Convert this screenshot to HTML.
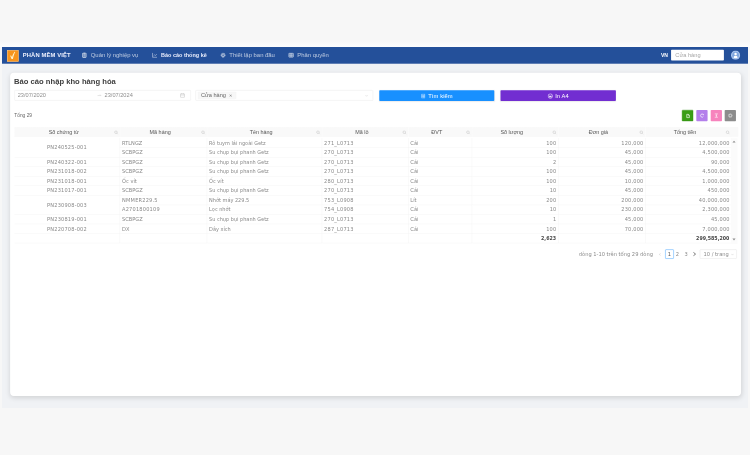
<!DOCTYPE html>
<html lang="vi">
<head>
<meta charset="utf-8">
<title>Báo cáo nhập kho hàng hóa</title>
<style>
*{box-sizing:border-box;margin:0;padding:0}
html,body{width:750px;height:455px;overflow:hidden;background:#f7f7f7}
body{font-family:"Liberation Sans",sans-serif;position:relative}
#app{position:absolute;left:2px;top:47px;width:1920px;height:929px;transform:scale(0.38854);transform-origin:0 0;background:#f0f2f5;color:#666;font-size:14px;overflow:hidden}
#nav{position:absolute;left:0;top:0;width:1920px;height:42.8px;background:#24509a;color:#fff}
#nav .logo{position:absolute;left:13px;top:8px;width:29.5px;height:29.5px;background:#f7941d;border:1.500px solid #fbdcb4}
#nav .brand{position:absolute;left:53.5px;top:0;line-height:43px;color:#eceffd;font-weight:bold;font-size:15px;letter-spacing:.3px;white-space:nowrap}
#nav .mi{position:absolute;top:0;line-height:42px;white-space:nowrap;color:rgba(255,255,255,.68);font-size:15.2px}
#nav .mi.act{color:#e9edfc;font-weight:bold;font-size:14.1px}
#nav .mi svg{position:absolute;left:-23.5px;top:14px;width:14px;height:14px;color:rgba(255,255,255,.8)}
#nav .vn{position:absolute;left:1696px;top:0;line-height:44px;font-weight:bold;font-size:13px}
#nav .sel{position:absolute;left:1722px;top:6.5px;width:136px;height:28px;background:#fff;border-radius:2px;color:#a6a6a6;line-height:30px;padding-left:11px;font-size:14.6px}
#nav .av{position:absolute;left:1876px;top:9px;width:24px;height:24px}
#card{position:absolute;left:20.5px;top:66.3px;width:1881.5px;height:832.2px;background:#fff;border-radius:10px;box-shadow:0 4px 14px rgba(0,0,0,.13)}
h1{position:absolute;left:10.5px;top:9.3px;font-size:19.65px;line-height:26px;color:#404040;font-weight:bold;white-space:nowrap;letter-spacing:0}
.inp{position:absolute;top:46px;height:27px;border:1px solid #e4e4e4;border-radius:2px;background:#fff;font-size:14.5px;line-height:25px;color:#8e8e8e;white-space:nowrap}
.btn{position:absolute;top:46px;height:28px;border-radius:2px;color:#fff;text-align:center;line-height:30px;font-size:14.9px;letter-spacing:.25px;white-space:nowrap;box-shadow:0 2px 3px rgba(0,0,0,.08)}
.btn svg{width:12.500px;height:12.500px;vertical-align:-1.500px;margin-right:6.500px;opacity:.88}
.total{position:absolute;left:11px;top:103px;font-size:12.5px;color:#666;line-height:16px}
.ib{position:absolute;top:97.2px;width:29px;height:29px;border-radius:2px}
.ib svg{position:absolute;left:8px;top:8px;width:13px;height:13px}
table{position:absolute;left:11px;top:141.4px;width:1846px;border-collapse:collapse;table-layout:fixed;font-size:14px;color:#8a8a8a}
th{height:27.6px;padding:0 17px 2.6px 0;background:linear-gradient(#f9f9f9 25px,#fff 25px);color:#555;font-weight:normal;text-align:center;position:relative;font-size:14px;line-height:25px}
th .si{position:absolute;right:4px;top:8px;width:12px;height:12px}
td{height:24.6px;line-height:20px;padding:2px 5px 0;border-bottom:1px solid #f1f1f1;border-right:1px solid #f1f1f1;white-space:nowrap;overflow:hidden;font-family:"DejaVu Sans","Liberation Sans",sans-serif;font-size:13px}
td.d,td.r{letter-spacing:.5px}
td.c{text-align:center}
td.n{font-size:12.8px}
td.r{text-align:right;padding-right:4px}
tr.sum td{font-weight:bold;color:#444;height:24.2px;line-height:20px;padding-top:2px;font-size:12.2px;letter-spacing:0;padding-right:5px}
.scroll{position:absolute;left:1855px;top:170px;width:17px;height:272px;background:#fbfbfb}
.scroll i{position:absolute;left:4px;width:0;height:0;border-left:4px solid transparent;border-right:4px solid transparent}
.pg{position:absolute;top:456px;font-family:"DejaVu Sans","Liberation Sans",sans-serif;font-size:13.2px;color:#8a8a8a;line-height:24px;white-space:nowrap}
</style>
</head>
<body>
<div style="position:absolute;left:0;top:41px;width:750px;height:6px;background:linear-gradient(#f7f7f7,#fdfdfd)"></div>
<div id="app">
  <div id="nav">
    <div class="logo"><svg viewBox="0 0 29 29" width="26.500" height="26.500" style="display:block"><path d="M7.500 14l3.500.5 2 4.500c1.500-6.500 4-11.500 7-15.500l2 1c-3 5.500-5 11.500-6.500 19.500h-4z" fill="#fff1c9"/></svg></div>
    <div class="brand">PHẦN MỀM VIỆT</div>
    <div class="mi" style="left:228.5px"><svg viewBox="0 0 14 14"><rect x="2.500" y="1.500" width="9" height="11.500" rx="1" fill="rgba(255,255,255,.25)" stroke="currentColor" stroke-width="1.800"/><rect x="5" y="0.300" width="4" height="2.200" fill="currentColor"/><path d="M5 4.5h4M5 7h4M5 9.5h4" stroke="currentColor" stroke-width="1.2"/></svg>Quản lý nghiệp vụ</div>
    <div class="mi act" style="left:409.5px"><svg viewBox="0 0 14 14"><path d="M1.5 1v11.5H13" fill="none" stroke="#c9d4e8" stroke-width="1.5"/><path d="M4 9l3-3 2 2 3.5-4" fill="none" stroke="#c9d4e8" stroke-width="1.4"/></svg>Báo cáo thống kê</div>
    <div class="mi" style="left:585px"><svg viewBox="0 0 14 14"><circle cx="7" cy="7" r="5.300" fill="none" stroke="currentColor" stroke-width="2" stroke-dasharray="2.800 1.360"/><circle cx="7" cy="7" r="3.300" fill="none" stroke="currentColor" stroke-width="2.200"/></svg>Thiết lập ban đầu</div>
    <div class="mi" style="left:760px"><svg viewBox="0 0 14 14"><rect x="1" y="2" width="12" height="10" rx="1" fill="rgba(255,255,255,.2)" stroke="currentColor" stroke-width="1.800"/><path d="M1 7h12M7 2v10" stroke="currentColor" stroke-width="1.500"/></svg>Phân quyền</div>
    <div class="vn">VN</div>
    <div class="sel">Cửa hàng</div>
    <svg class="av" viewBox="0 0 24 24"><circle cx="12" cy="12" r="11.800" fill="#a9c4ee"/><circle cx="12" cy="12" r="8.600" fill="#7ea5de"/><circle cx="12" cy="9.300" r="3.200" fill="#fff"/><path d="M6.500 17.800c.8-3.200 2.900-4.300 5.500-4.300s4.700 1.100 5.500 4.300a8.600 8.600 0 0 1-11 0z" fill="#fff"/></svg>
  </div>
  <div id="card"><div id="in" style="position:absolute;left:0;top:-1.3px;width:100%;height:100%">
    <h1>Báo cáo nhập kho hàng hóa</h1>
    <div class="inp" style="left:11px;width:454.6px">
      <span style="position:absolute;left:8px">23/07/2020</span>
      <svg style="position:absolute;left:211px;top:7px;width:13px;height:12px" viewBox="0 0 13 12"><path d="M2 6h9M8.500 3.500l2.500 2.500" fill="none" stroke="#c4c4c4" stroke-width="1.200"/></svg>
      <span style="position:absolute;left:231.5px">23/07/2024</span>
      <svg style="position:absolute;right:14px;top:6px;width:13px;height:13px" viewBox="0 0 14 14"><rect x="1.5" y="2.5" width="11" height="10" rx="1" fill="none" stroke="#c4c4c4" stroke-width="1.4"/><path d="M1.500 6h11M4.500 1v3M9.500 1v3" stroke="#c4c4c4" stroke-width="1.4"/></svg>
    </div>
    <div class="inp" style="left:477.5px;width:456.5px">
      <span style="position:absolute;left:5px;top:2.5px;height:19.5px;line-height:16.500px;padding:0 7px;background:#f7f7f7;border:1px solid #f2f2f2;border-radius:2px;color:#666;font-size:14.5px">Cửa hàng <span style="font-size:11.5px;color:#777;margin-left:4px">✕</span></span>
      <svg style="position:absolute;right:11px;top:8.500px;width:8.500px;height:8.500px" viewBox="0 0 10 10"><path d="M1.500 3l3.500 4 3.500-4" fill="none" stroke="#cfcfcf" stroke-width="1.300"/></svg>
    </div>
    <div class="btn" style="left:950.5px;width:296px;background:#1890ff"><svg viewBox="0 0 14 14"><path d="M2 1.500h10M2 5h10M2 8.500h10M2 12.500h10M2.500 1.500v11M11.500 1.500v11M7 5v7.500" fill="none" stroke="#fff" stroke-width="1.300"/></svg>Tìm kiếm</div>
    <div class="btn" style="left:1262px;width:297.5px;background:#722ed1"><svg viewBox="0 0 14 14" style="width:14.500px;height:14.500px;vertical-align:-2.500px;margin-right:5.500px"><circle cx="7" cy="7" r="5.500" fill="none" stroke="#fff" stroke-width="1.6"/><path d="M4 6h6v4H4z" fill="#fff"/></svg>In A4</div>
    <div class="total">Tổng 29</div>
    <div class="ib" style="left:1729.5px;background:#3a9e16;border:1px solid #2f8a10"><svg viewBox="0 0 13 13"><path d="M3.500 2h4l2.500 2.500v6.500H3.500z" fill="none" stroke="#fff" stroke-width="1.700"/><path d="M7 2v3h3" fill="none" stroke="#fff" stroke-width="1.200"/></svg></div>
    <div class="ib" style="left:1766.6px;background:#b37feb"><svg viewBox="0 0 13 13"><path d="M10 4.200A4 4 0 1 0 10.300 8.300" fill="none" stroke="#fff" stroke-width="1.700"/><path d="M10.800 2v3h-3z" fill="#fff"/></svg></div>
    <div class="ib" style="left:1803.8px;background:#f783bd"><svg viewBox="0 0 13 13"><path d="M2.500 2.200h8M2.500 10.800h8" fill="none" stroke="#fff" stroke-width="1.500"/><path d="M6.500 4v5" stroke="#fff" stroke-width="1.300"/><path d="M4.700 5.800l1.800-2 1.800 2zM4.700 7.200l1.800 2 1.800-2z" fill="#fff"/></svg></div>
    <div class="ib" style="left:1839.8px;background:#8c8c8c"><svg viewBox="0 0 13 13"><circle cx="6.500" cy="6.500" r="3.500" fill="none" stroke="#dcdcdc" stroke-width="2.400"/><circle cx="6.500" cy="6.500" r="5.200" fill="none" stroke="#dcdcdc" stroke-width="1.400" stroke-dasharray="1.800 2.280"/></svg></div>
    <table>
      <colgroup><col style="width:272px"><col style="width:224px"><col style="width:296px"><col style="width:222px"><col style="width:164px"><col style="width:222px"><col style="width:224px"><col style="width:222px"></colgroup>
      <thead><tr><th><span class="ht">Số chứng từ</span><svg class="si" viewBox="0 0 16 16"><circle cx="7" cy="7" r="4.5" fill="none" stroke="#bfbfbf" stroke-width="1.6"/><path d="M10.5 10.5L14 14" stroke="#bfbfbf" stroke-width="1.6"/></svg></th><th><span class="ht">Mã hàng</span><svg class="si" viewBox="0 0 16 16"><circle cx="7" cy="7" r="4.5" fill="none" stroke="#bfbfbf" stroke-width="1.6"/><path d="M10.5 10.5L14 14" stroke="#bfbfbf" stroke-width="1.6"/></svg></th><th><span class="ht">Tên hàng</span><svg class="si" viewBox="0 0 16 16"><circle cx="7" cy="7" r="4.5" fill="none" stroke="#bfbfbf" stroke-width="1.6"/><path d="M10.5 10.5L14 14" stroke="#bfbfbf" stroke-width="1.6"/></svg></th><th><span class="ht">Mã lô</span><svg class="si" viewBox="0 0 16 16"><circle cx="7" cy="7" r="4.5" fill="none" stroke="#bfbfbf" stroke-width="1.6"/><path d="M10.5 10.5L14 14" stroke="#bfbfbf" stroke-width="1.6"/></svg></th><th><span class="ht">ĐVT</span><svg class="si" viewBox="0 0 16 16"><circle cx="7" cy="7" r="4.5" fill="none" stroke="#bfbfbf" stroke-width="1.6"/><path d="M10.5 10.5L14 14" stroke="#bfbfbf" stroke-width="1.6"/></svg></th><th><span class="ht">Số lượng</span><svg class="si" viewBox="0 0 16 16"><circle cx="7" cy="7" r="4.5" fill="none" stroke="#bfbfbf" stroke-width="1.6"/><path d="M10.5 10.5L14 14" stroke="#bfbfbf" stroke-width="1.6"/></svg></th><th><span class="ht">Đơn giá</span><svg class="si" viewBox="0 0 16 16"><circle cx="7" cy="7" r="4.5" fill="none" stroke="#bfbfbf" stroke-width="1.6"/><path d="M10.5 10.5L14 14" stroke="#bfbfbf" stroke-width="1.6"/></svg></th><th><span class="ht">Tổng tiền</span><svg class="si" viewBox="0 0 16 16"><circle cx="7" cy="7" r="4.5" fill="none" stroke="#bfbfbf" stroke-width="1.6"/><path d="M10.5 10.5L14 14" stroke="#bfbfbf" stroke-width="1.6"/></svg></th></tr></thead>
      <tbody>
<tr><td class="c d" rowspan="2">PN240525-001</td><td>RTLNGZ</td><td class="n">Rô tuym lái ngoài Getz</td><td class="d">271_L0713</td><td>Cái</td><td class="r">100</td><td class="r">120,000</td><td class="r">12,000,000</td></tr>
<tr><td>SCBPGZ</td><td class="n">Su chụp bụi phanh Getz</td><td class="d">270_L0713</td><td>Cái</td><td class="r">100</td><td class="r">45,000</td><td class="r">4,500,000</td></tr>
<tr><td class="c d" rowspan="1">PN240322-001</td><td>SCBPGZ</td><td class="n">Su chụp bụi phanh Getz</td><td class="d">270_L0713</td><td>Cái</td><td class="r">2</td><td class="r">45,000</td><td class="r">90,000</td></tr>
<tr><td class="c d" rowspan="1">PN231018-002</td><td>SCBPGZ</td><td class="n">Su chụp bụi phanh Getz</td><td class="d">270_L0713</td><td>Cái</td><td class="r">100</td><td class="r">45,000</td><td class="r">4,500,000</td></tr>
<tr><td class="c d" rowspan="1">PN231018-001</td><td>Ốc vít</td><td class="n">Ốc vít</td><td class="d">280_L0713</td><td>Cái</td><td class="r">100</td><td class="r">10,000</td><td class="r">1,000,000</td></tr>
<tr><td class="c d" rowspan="1">PN231017-001</td><td>SCBPGZ</td><td class="n">Su chụp bụi phanh Getz</td><td class="d">270_L0713</td><td>Cái</td><td class="r">10</td><td class="r">45,000</td><td class="r">450,000</td></tr>
<tr><td class="c d" rowspan="2">PN230908-003</td><td class="d">NMMER229.5</td><td class="n">Nhớt máy 229.5</td><td class="d">753_L0908</td><td>Lít</td><td class="r">200</td><td class="r">200,000</td><td class="r">40,000,000</td></tr>
<tr><td class="d">A2701800109</td><td class="n">Lọc nhớt</td><td class="d">754_L0908</td><td>Cái</td><td class="r">10</td><td class="r">230,000</td><td class="r">2,300,000</td></tr>
<tr><td class="c d" rowspan="1">PN230819-001</td><td>SCBPGZ</td><td class="n">Su chụp bụi phanh Getz</td><td class="d">270_L0713</td><td>Cái</td><td class="r">1</td><td class="r">45,000</td><td class="r">45,000</td></tr>
<tr><td class="c d" rowspan="1">PN220708-002</td><td>DX</td><td class="n">Dây xích</td><td class="d">287_L0713</td><td>Cái</td><td class="r">100</td><td class="r">70,000</td><td class="r">7,000,000</td></tr>
<tr class="sum"><td></td><td></td><td></td><td></td><td></td><td class="r">2,623</td><td></td><td class="r">299,585,200</td></tr>
      </tbody>
    </table>
    <div style="position:absolute;left:1855px;top:141.4px;width:19px;height:25px;background:#f9f9f9"></div>
    <div class="scroll"><i style="top:6px;border-bottom:5px solid #8a8a8a"></i><i style="bottom:9px;border-top:5px solid #8a8a8a"></i></div>
    <div class="pg" style="left:1464px">dòng 1-10 trên tổng 29 dòng</div>
    <div class="pg" style="left:1670px;color:#ccc;font-size:15px">‹</div>
    <div class="pg" style="left:1686px;width:22px;height:24px;border:1px solid #1890ff;border-radius:2px;text-align:center;line-height:22px;color:#555">1</div>
    <div class="pg" style="left:1713.4px">2</div>
    <div class="pg" style="left:1735.8px">3</div>
    <svg style="position:absolute;left:1757px;top:462px;width:9px;height:12px" viewBox="0 0 9 12"><path d="M1.500 1.500l5.500 4.500-5.500 4.500" fill="none" stroke="#444" stroke-width="1.800"/></svg>
    <div class="pg" style="left:1775px;width:95.5px;height:24px;border:1px solid #dcdcdc;border-radius:2px;padding-left:9px;line-height:22px">10 / trang <svg style="position:absolute;right:6px;top:8px;width:8px;height:8px" viewBox="0 0 10 10"><path d="M1.500 3l3.500 4 3.500-4" fill="none" stroke="#c8c8c8" stroke-width="1.400"/></svg></div>
  </div></div>
</div>
</body>
</html>
